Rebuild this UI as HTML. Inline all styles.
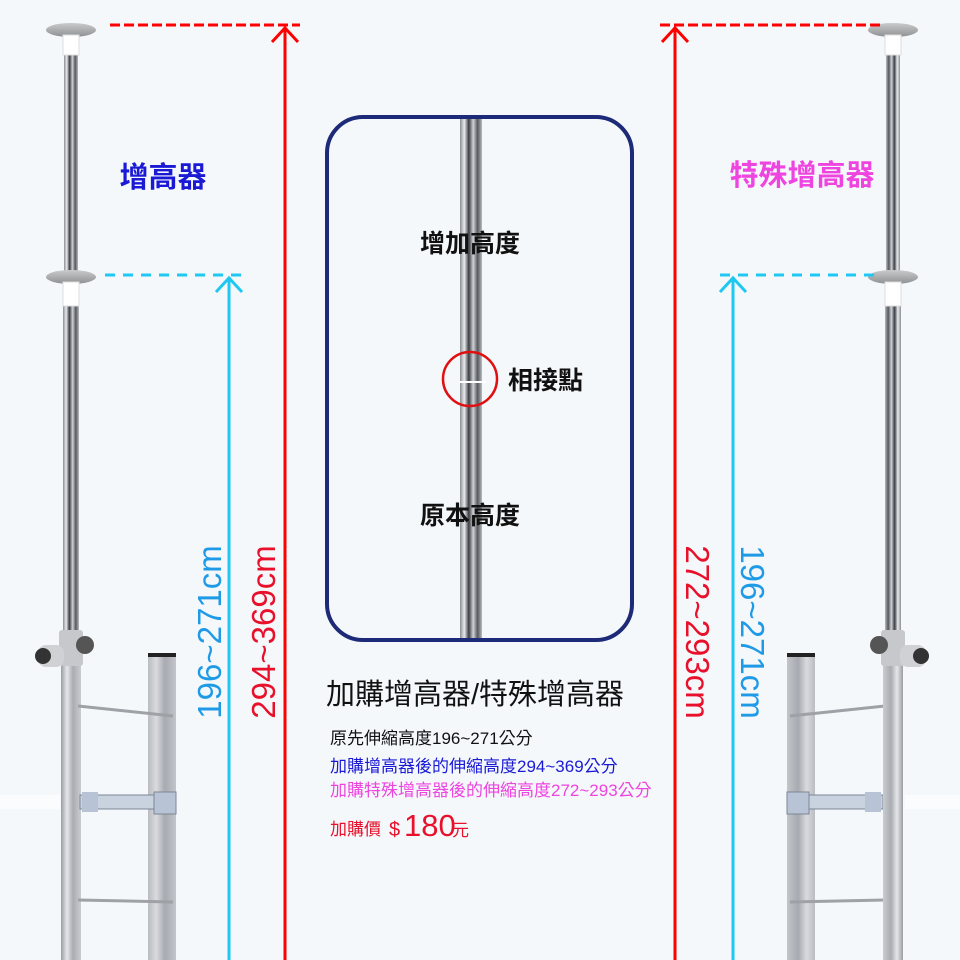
<!DOCTYPE html>
<html><head><meta charset="utf-8"><style>
html,body{margin:0;padding:0;background:#f5f8fb;}
svg{display:block;}
text{font-family:"Liberation Sans","Noto Sans CJK TC",sans-serif;}
</style></head><body>
<svg width="960" height="960" viewBox="0 0 960 960" xmlns="http://www.w3.org/2000/svg">
<defs>
<linearGradient id="pole" x1="0" x2="1" y1="0" y2="0">
<stop offset="0" stop-color="#8a8d92"/><stop offset="0.2" stop-color="#e8eaee"/><stop offset="0.4" stop-color="#3a3d42"/><stop offset="0.6" stop-color="#cfd2d6"/><stop offset="0.8" stop-color="#55585d"/><stop offset="1" stop-color="#b8bbc0"/>
</linearGradient>
<linearGradient id="low" x1="0" x2="1"><stop offset="0" stop-color="#9a9da2"/><stop offset="0.3" stop-color="#e4e6ea"/><stop offset="0.6" stop-color="#a9acb1"/><stop offset="1" stop-color="#c9ccd0"/></linearGradient>
<linearGradient id="rail" x1="0" x2="1"><stop offset="0" stop-color="#b9bcc1"/><stop offset="0.3" stop-color="#d8dade"/><stop offset="0.6" stop-color="#a7aab0"/><stop offset="1" stop-color="#c2c5ca"/></linearGradient>
<linearGradient id="disc" x1="0" x2="0" y1="0" y2="1"><stop offset="0" stop-color="#c9cbcc"/><stop offset="1" stop-color="#8e9091"/></linearGradient>
<g id="asm">
<rect x="-7" y="40" width="14" height="240" fill="url(#pole)"/>
<ellipse cx="0" cy="30" rx="25" ry="7" fill="url(#disc)"/>
<rect x="-8" y="35" width="16" height="20" fill="#fff" stroke="#ddd"/>
<rect x="-8" y="290" width="16" height="350" fill="url(#pole)"/>
<ellipse cx="0" cy="277" rx="25" ry="7" fill="url(#disc)"/>
<rect x="-8" y="282" width="16" height="24" fill="#fff" stroke="#ddd"/>
<rect x="-10" y="660" width="20" height="300" fill="url(#low)"/>
<rect x="-12" y="630" width="24" height="36" rx="3" fill="#c6c8cb"/>
<rect x="-33" y="645" width="26" height="22" rx="8" fill="#cfd1d4"/>
<circle cx="-28" cy="656" r="8" fill="#333"/>
<circle cx="14" cy="645" r="9" fill="#555"/>
</g>
<g id="lad">
<rect x="0" y="655" width="28" height="305" fill="url(#rail)"/>
<rect x="0" y="653" width="28" height="4" fill="#222"/>
<line x1="25" y1="716" x2="-70" y2="706" stroke="#9ea1a6" stroke-width="3"/>
<line x1="25" y1="902" x2="-70" y2="900" stroke="#9ea1a6" stroke-width="3"/>
<rect x="-68" y="795" width="96" height="14" fill="#c9d3e0" stroke="#7d8694"/>
<rect x="-66" y="792" width="16" height="20" fill="#b8c4d6"/>
<rect x="6" y="792" width="22" height="22" fill="#b8c4d6" stroke="#7d8694"/>
</g>
</defs>

<rect x="0" y="795" width="60" height="14" fill="#fbfcfd"/>
<use href="#asm" x="71" y="0"/>
<use href="#lad" x="148" y="0"/>
<rect x="905" y="795" width="55" height="14" fill="#fbfcfd"/>
<use href="#lad" transform="translate(963,0) scale(-1,1)" x="148"/>
<use href="#asm" transform="translate(893,0) scale(-1,1)"/>

<line x1="110" y1="25" x2="300" y2="25" stroke="#f00" stroke-width="3" stroke-dasharray="10 4"/>
<line x1="285" y1="27" x2="285" y2="960" stroke="#f00" stroke-width="3"/>
<polyline points="272,42 285,28 298,42" fill="none" stroke="#f00" stroke-width="3"/>
<line x1="105" y1="275" x2="245" y2="275" stroke="#1ec8f0" stroke-width="3" stroke-dasharray="10 8"/>
<line x1="229" y1="277" x2="229" y2="960" stroke="#1ec8f0" stroke-width="3"/>
<polyline points="216,292 229,278 242,292" fill="none" stroke="#1ec8f0" stroke-width="3"/>
<text transform="translate(221,632) rotate(-90)" text-anchor="middle" font-size="33" fill="#1e9ae6">196~271cm</text>
<text transform="translate(275,632) rotate(-90)" text-anchor="middle" font-size="33" fill="#e8102a">294~369cm</text>
<text x="163" y="187" text-anchor="middle" font-size="29" font-weight="bold" fill="#1a1ad6">增高器</text>

<line x1="660" y1="25" x2="880" y2="25" stroke="#f00" stroke-width="3" stroke-dasharray="10 4"/>
<line x1="675" y1="27" x2="675" y2="960" stroke="#f00" stroke-width="3"/>
<polyline points="662,42 675,28 688,42" fill="none" stroke="#f00" stroke-width="3"/>
<line x1="720" y1="275" x2="880" y2="275" stroke="#1ec8f0" stroke-width="3" stroke-dasharray="10 8"/>
<line x1="733" y1="277" x2="733" y2="960" stroke="#1ec8f0" stroke-width="3"/>
<polyline points="720,292 733,278 746,292" fill="none" stroke="#1ec8f0" stroke-width="3"/>
<text transform="translate(686,632) rotate(90)" text-anchor="middle" font-size="33" fill="#e8102a">272~293cm</text>
<text transform="translate(741,632) rotate(90)" text-anchor="middle" font-size="33" fill="#1e9ae6">196~271cm</text>
<text x="802" y="185" text-anchor="middle" font-size="29" font-weight="bold" fill="#ee44e0">特殊增高器</text>

<rect x="327" y="117" width="305" height="523" rx="36" fill="#f5f8fb" stroke="#1c2a78" stroke-width="4"/>
<rect x="460" y="119" width="22" height="519" fill="url(#pole)"/>
<line x1="459" y1="382" x2="486" y2="382" stroke="#fff" stroke-width="2"/>
<circle cx="470" cy="379" r="27" fill="none" stroke="#e01010" stroke-width="2.5"/>
<text x="470" y="252" text-anchor="middle" font-size="25" font-weight="bold" fill="#111">增加高度</text>
<text x="508" y="389" font-size="25" font-weight="bold" fill="#111">相接點</text>
<text x="470" y="524" text-anchor="middle" font-size="25" font-weight="bold" fill="#111">原本高度</text>

<text x="326" y="704" font-size="29" fill="#111">加購增高器/特殊增高器</text>
<text x="330" y="744" font-size="17" fill="#111">原先伸縮高度196~271公分</text>
<text x="330" y="772" font-size="17" fill="#1a1ad6">加購增高器後的伸縮高度294~369公分</text>
<text x="330" y="796" font-size="17" fill="#ee44e0">加購特殊增高器後的伸縮高度272~293公分</text>
<text x="330" y="835" font-size="17" fill="#e8102a">加購價</text>
<text x="389" y="836" font-size="20" fill="#e8102a">$</text>
<text x="404" y="836" font-size="31" fill="#e8102a">180</text>
<text x="452" y="836" font-size="17" fill="#e8102a">元</text>
</svg>
</body></html>
